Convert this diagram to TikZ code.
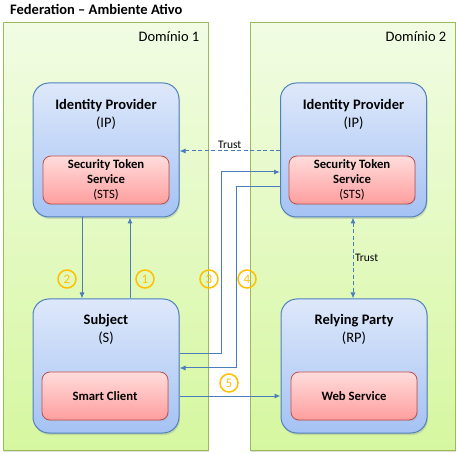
\documentclass[tikz,border=0pt]{standalone}
\usepackage{fontspec}
\setmainfont{Carlito}
\usetikzlibrary{positioning,shadows,arrows.meta}

\definecolor{domainline}{HTML}{9BBB59}
\definecolor{domaintop}{HTML}{F1FCE3}
\definecolor{domainbot}{HTML}{D6F7A0}
\definecolor{partyline}{HTML}{4F81BD}
\definecolor{partytop}{HTML}{DEE8FA}
\definecolor{partybot}{HTML}{A4C2F4}
\definecolor{serviceline}{HTML}{C0504D}
\definecolor{servicetop}{HTML}{FFDCDC}
\definecolor{servicebot}{HTML}{FF9E9E}
\definecolor{flowline}{HTML}{4A7EBB}
\definecolor{stepcolor}{HTML}{FFC000}

\begin{document}
\begin{tikzpicture}[x=1pt,y=-1pt,>={Latex[length=6pt,width=5pt]},
			domain box/.style={draw=domainline,line width=1pt,top color=domaintop,bottom color=domainbot,minimum width=205pt,minimum height=427pt,drop shadow={opacity=0.25,shadow xshift=1pt,shadow yshift=-1.5pt}},
			party box/.style={draw=partyline,line width=1pt,rounded corners=16pt,top color=partytop,bottom color=partybot,minimum width=146pt,minimum height=134pt,drop shadow={opacity=0.25,shadow xshift=1pt,shadow yshift=-2pt}},
			service box/.style={draw=serviceline,line width=0.8pt,rounded corners=8pt,top color=servicetop,bottom color=servicebot,minimum width=126pt,minimum height=48pt,align=center,font=\fontsize{12.7}{15}\selectfont\bfseries,drop shadow={opacity=0.2,shadow xshift=0.8pt,shadow yshift=-1.2pt}},
			name text/.style={anchor=base,inner sep=0pt,font=\fontsize{14.5}{18}\selectfont\bfseries},
			abbr text/.style={anchor=base,inner sep=0pt,font=\fontsize{14.5}{18}\selectfont},
			domain text/.style={anchor=base east,inner sep=0pt,font=\fontsize{14.5}{18}\selectfont},
			flow/.style={draw=flowline,line width=1pt},
			trust/.style={flow,dash pattern=on 4pt off 2.5pt},
			trust text/.style={font=\fontsize{11.5}{13}\selectfont,inner sep=1.5pt},
			num mark/.style={circle,draw=stepcolor,line width=1.5pt,text=stepcolor,minimum size=18pt,inner sep=0pt,font=\fontsize{13}{15}\selectfont}
			]
			
			\fill[white] (0,0) rectangle (458,454);
			\useasboundingbox (0,0) rectangle (458,454);
			
			\node[anchor=base west,inner sep=0pt,font=\fontsize{14.5}{18}\selectfont\bfseries] (title) at (10,14.5) {Federation – Ambiente Ativo};
			
			% dominios
			\node[domain box] (dom1) at (105.5,236.5) {};
			\node[domain box] (dom2) at (352.5,236.5) {};
			\node[domain text] (dom1 text) at ([xshift=-9pt,yshift=-19pt]dom1.north east) {Domínio 1};
			\node[domain text] (dom2 text) at ([xshift=-9pt,yshift=-19pt]dom2.north east) {Domínio 2};
			
			% dominio 1
			\node[party box] (ip1) at (106,150) {};
			\node[name text] (ip1 name) at ([yshift=-27pt]ip1.north) {Identity Provider};
			\node[abbr text] (ip1 abbr) at ([yshift=-18pt]ip1 name.base) {(IP)};
			\node[service box] (sts1) at (106,180) {Security Token\\Service\\\mdseries(STS)};
			
			\node[party box] (sub) at (106,366) {};
			\node[name text] (sub name) at ([yshift=-26pt]sub.north) {Subject};
			\node[abbr text] (sub abbr) at ([yshift=-18pt]sub name.base) {(S)};
			\node[service box] (client) at (105,396) {Smart Client};
			
			% dominio 2
			\node[party box] (ip2) at (353.5,150) {};
			\node[name text] (ip2 name) at ([yshift=-27pt]ip2.north) {Identity Provider};
			\node[abbr text] (ip2 abbr) at ([yshift=-18pt]ip2 name.base) {(IP)};
			\node[service box] (sts2) at (352,180) {Security Token\\Service\\\mdseries(STS)};
			
			\node[party box] (rp) at (354,366) {};
			\node[name text] (rp name) at ([yshift=-26pt]rp.north) {Relying Party};
			\node[abbr text] (rp abbr) at ([yshift=-18pt]rp name.base) {(RP)};
			\node[service box] (ws) at (354,396) {Web Service};
			
			% fluxo
			\coordinate (c1) at (130,0);
			\coordinate (c2) at (82,0);
			\coordinate (c3) at (221,172);
			\coordinate (c3 out) at (0,354);
			\coordinate (c4) at (236,187);
			\coordinate (c4 in) at (0,368);
			\coordinate (t1) at (0,151);
			\coordinate (t2) at (353,0);
			
			\draw[flow,->] (sub.north -| c1) -- (ip1.south -| c1);
			\draw[flow,->] (ip1.south -| c2) -- (sub.north -| c2);
			\draw[flow,->] (sub.east |- c3 out) -| (c3) -- (ip2.west |- c3);
			\draw[flow,->] (ip2.west |- c4) -- (c4) |- (sub.east |- c4 in);
			\draw[flow,->] (sub.east |- client) -- (rp.west |- client);
			
			\draw[trust,->] (ip2.west |- t1) -- node[trust text,above] (trust1) {Trust} (ip1.east |- t1);
			\draw[trust,<->] (ip2.south -| t2) -- node[trust text,right] (trust2) {Trust} (rp.north -| t2);
			
			\foreach \n/\x/\y in {1/145/279, 2/67/279, 3/209/279, 4/247/279, 5/229/383} {
				\node[num mark] (num\n) at (\x,\y) {\n};
			}
			
			\end{tikzpicture}
\end{document}
